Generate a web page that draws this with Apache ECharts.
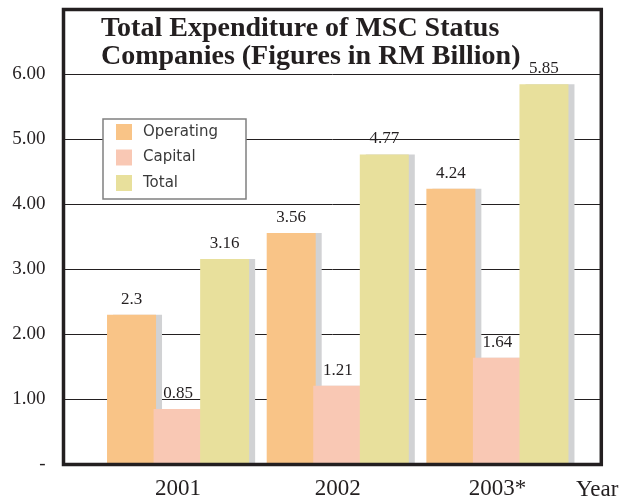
<!DOCTYPE html>
<html>
<head>
<meta charset="utf-8">
<script src="https://cdn.jsdelivr.net/npm/echarts@6/dist/echarts.min.js"></script>
<style>
html,body{margin:0;padding:0;background:#fff;}
#chart{width:623px;height:503px;}
</style>
</head>
<body>
<div id="chart"></div>
<script>
var categories = ['2001', '2002', '2003*'];
var operating = [2.3, 3.56, 4.24];
var capital = [0.85, 1.21, 1.64];
var total = [3.16, 4.77, 5.85];
var seriesNames = ['Operating', 'Capital', 'Total'];
var yTickLabels = ['-', '1.00', '2.00', '3.00', '4.00', '5.00', '6.00', ''];
var titleLines = ['Total Expenditure of MSC Status', 'Companies (Figures in RM Billion)'];
var xAxisName = 'Year';

var serif = '"Liberation Serif", "Times New Roman", serif';
var ink = '#231f20';
var colors = ['#f9c487', '#f9c8b4', '#e8e09c'];

function barSeries(name, data, color) {
  return {
    name: name,
    type: 'bar',
    xAxisIndex: 0,
    yAxisIndex: 0,
    data: data,
    barWidth: 49,
    barGap: '-5%',
    itemStyle: {
      color: color,
      shadowColor: '#d1d2d4',
      shadowOffsetX: 6,
      shadowOffsetY: 0,
      shadowBlur: 0
    },
    label: {
      show: true,
      position: 'top',
      distance: 7,
      fontFamily: serif,
      fontSize: 17,
      color: ink,
      formatter: function (p) { return String(p.value); }
    },
    emphasis: { disabled: true }
  };
}

var chart = echarts.init(document.getElementById('chart'));
chart.setOption({
  animation: false,
  backgroundColor: '#ffffff',
  title: {
    text: titleLines.join('\n'),
    left: 101,
    top: 15,
    padding: 0,
    textStyle: {
      fontFamily: serif,
      fontWeight: 'bold',
      fontSize: 28,
      lineHeight: 28,
      color: ink
    }
  },
  legend: {
    orient: 'vertical',
    left: 116,
    top: 124,
    padding: 0,
    itemWidth: 16,
    itemHeight: 16,
    itemGap: 9.5,
    icon: 'rect',
    z: 6,
    data: seriesNames,
    itemStyle: { shadowColor: 'transparent', shadowOffsetX: 0 },
    textStyle: {
      fontFamily: '"DejaVu Sans", sans-serif',
      fontSize: 15,
      color: '#3a3a3a',
      padding: [0, 0, 0, 6]
    }
  },
  grid: [
    { left: 98.25, right: 45.75, top: 9.5, bottom: 38.7 },
    { left: 63.5, right: 21.7, top: 9.5, bottom: 38.7 }
  ],
  xAxis: [
    {
      type: 'category',
      gridIndex: 0,
      data: categories,
      axisLine: { show: false },
      axisTick: { show: false },
      axisLabel: {
        margin: 13,
        fontFamily: serif,
        fontSize: 23,
        color: ink
      }
    },
    {
      type: 'category',
      gridIndex: 1,
      data: categories,
      show: false
    }
  ],
  yAxis: [
    {
      type: 'value',
      gridIndex: 0,
      min: 0,
      max: 7,
      interval: 1,
      show: false,
      splitLine: { show: false }
    },
    {
      type: 'value',
      gridIndex: 1,
      min: 0,
      max: 7,
      interval: 1,
      axisLine: { show: false },
      axisTick: { show: false },
      splitLine: { show: true, lineStyle: { color: ink, width: 1 } },
      axisLabel: {
        margin: 18,
        fontFamily: serif,
        fontSize: 19,
        color: ink,
        formatter: function (v) { return yTickLabels[Math.round(v)]; }
      }
    }
  ],
  graphic: [
    {
      type: 'rect',
      z: 3,
      shape: { x: 103, y: 119, width: 143, height: 80 },
      style: { fill: '#ffffff', stroke: '#808080', lineWidth: 1.5 }
    },
    {
      type: 'rect',
      z: 10,
      shape: { x: 63.5, y: 9.5, width: 537.8, height: 455 },
      style: { fill: 'none', stroke: ink, lineWidth: 3.5 }
    },
    {
      type: 'text',
      z: 10,
      x: 576,
      y: 490,
      style: {
        text: xAxisName,
        font: '23px ' + serif,
        fill: ink,
        verticalAlign: 'middle'
      }
    }
  ],
  series: [
    barSeries(seriesNames[0], operating, colors[0]),
    barSeries(seriesNames[1], capital, colors[1]),
    barSeries(seriesNames[2], total, colors[2])
  ]
});
</script>
</body>
</html>
